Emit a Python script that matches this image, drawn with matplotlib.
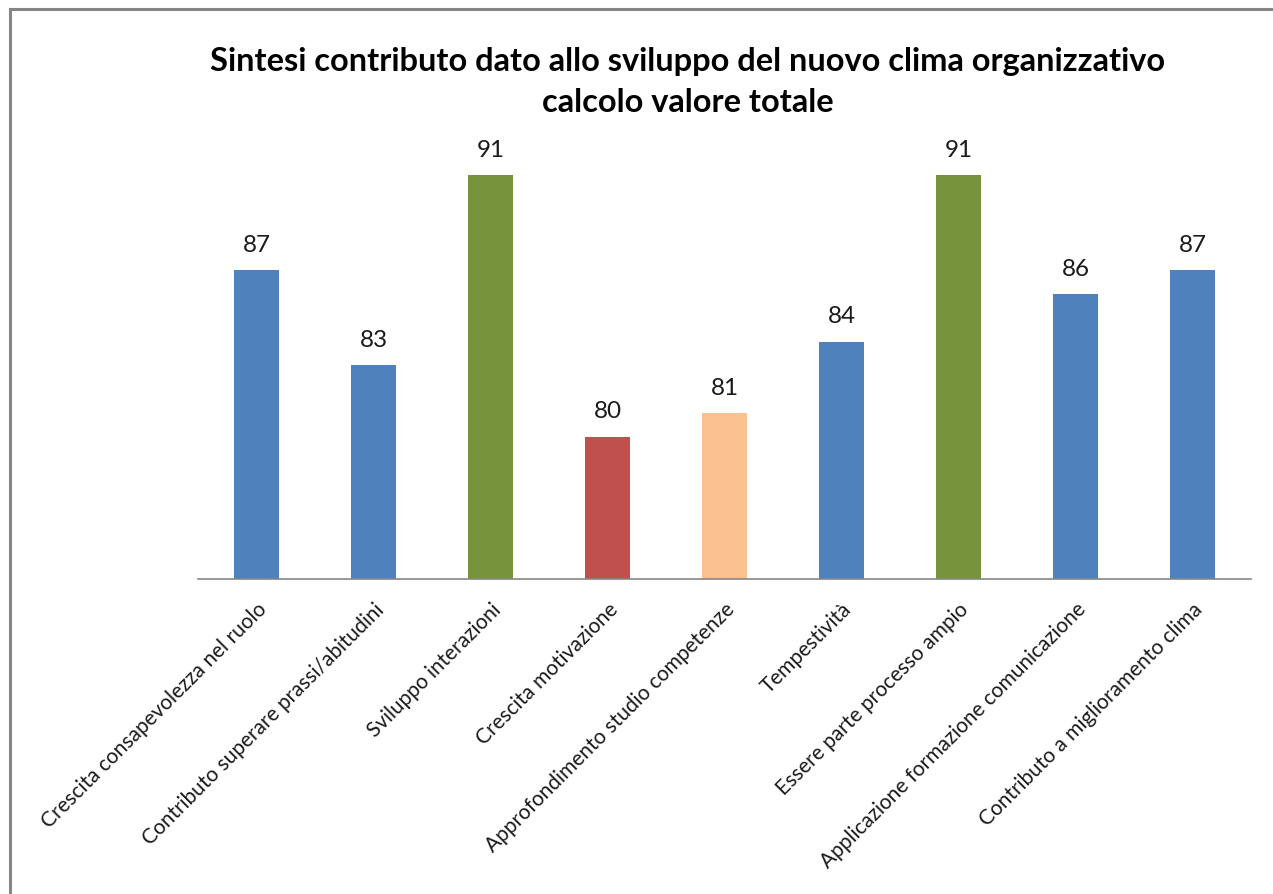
import matplotlib.pyplot as plt
from matplotlib.patches import Rectangle

categories = [
    "Crescita consapevolezza nel ruolo",
    "Contributo superare prassi/abitudini",
    "Sviluppo interazioni",
    "Crescita motivazione",
    "Approfondimento studio competenze",
    "Tempestività",
    "Essere parte processo ampio",
    "Applicazione formazione comunicazione",
    "Contributo a miglioramento clima",
]
values = [87, 83, 91, 80, 81, 84, 91, 86, 87]
colors = ["#4F81BD", "#4F81BD", "#77933C", "#C0504D", "#FAC090",
          "#4F81BD", "#77933C", "#4F81BD", "#4F81BD"]

plt.rcParams['font.family'] = ['Lato', 'DejaVu Sans']

fig = plt.figure(figsize=(12.73, 8.95), dpi=100)
# outer chart border (runs off right and bottom)
fig.patches.append(Rectangle((10 / 1273, -0.05), 1.2, 1 - 10 / 895 + 0.05,
                             transform=fig.transFigure, fill=False,
                             edgecolor="#868686", linewidth=2.2))

ax = fig.add_axes([198 / 1273, 1 - 580 / 895, (1251 - 198) / 1273, 451 / 895])
x = range(len(categories))
bars = ax.bar(x, values, width=0.39, color=colors, bottom=0)
ax.set_ylim(74, 93)
ax.set_xlim(-0.5, len(categories) - 0.5)

for xi, v in zip(x, values):
    ax.annotate(str(v), (xi, v), xytext=(0, 11), textcoords="offset points",
                ha="center", va="bottom", fontsize=17.5, color="#1a1a1a")

ax.set_xticks(list(x))
ax.set_xticklabels(categories, rotation=45, ha="right", rotation_mode="anchor",
                   fontsize=15, color="#1a1a1a")
ax.tick_params(axis="x", length=0, pad=14)
ax.set_yticks([])
for side in ["left", "right", "top"]:
    ax.spines[side].set_visible(False)
ax.spines["bottom"].set_color("#868686")
ax.spines["bottom"].set_linewidth(1.2)

fig.text(0.540, 1 - 62 / 895, "Sintesi contributo dato allo sviluppo del nuovo clima organizzativo",
         ha="center", va="center", fontsize=23.4, fontweight="bold")
fig.text(0.540, 1 - 102 / 895, "calcolo valore totale",
         ha="center", va="center", fontsize=23.4, fontweight="bold")

fig.savefig("out.png", dpi=100)
